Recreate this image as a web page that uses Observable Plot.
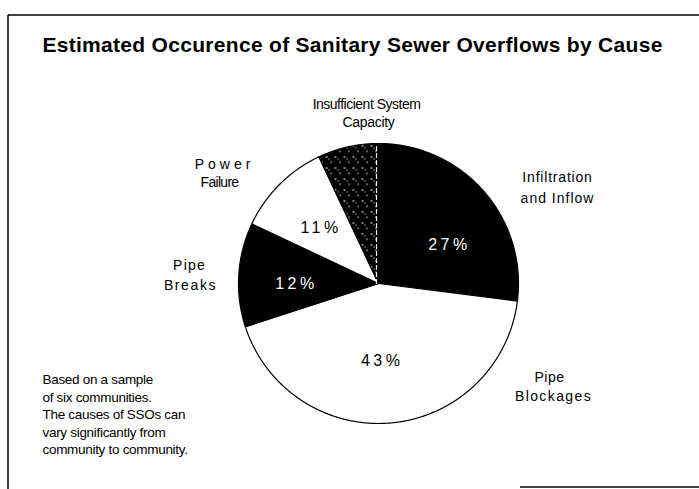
<!DOCTYPE html>
<html><head><meta charset="utf-8">
<script src="https://cdn.jsdelivr.net/npm/d3@7"></script>
<script src="https://cdn.jsdelivr.net/npm/@observablehq/plot@0.6"></script>
<style>body{margin:0;background:#fff} svg{display:block}</style>
</head><body><div id="chart"></div>
<script>
// ---- data ----
const causes = ["Infiltration and Inflow", "Pipe Blockages", "Pipe Breaks", "Power Failure", "Insufficient System Capacity"];
const shares = [27, 43, 12, 11, 7];
const sliceFills = ["black", "white", "black", "white", "url(#speckle)"];
const pctColors = ["white", "black", "white", "black", null];
const title = "Estimated Occurence of Sanitary Sewer Overflows by Cause";
const noteLines = ["Based on a sample", "of six communities.", "The causes of SSOs can", "vary significantly from", "community to community."];

// ---- layout ----
const W = 699, H = 489, cx = 378, cy = 283, R = 140;
const arcs = d3.pie().sort(null).value(d => d)(shares);
const pt = (a, r) => [r * Math.sin(a), r * Math.cos(a)];
const slicePts = [];
arcs.forEach((a, i) => {
  slicePts.push({cause: causes[i], fill: sliceFills[i], x: 0, y: 0});
  const n = Math.max(4, Math.ceil((a.endAngle - a.startAngle) / 0.005));
  for (let k = 0; k <= n; k++) {
    const t = a.startAngle + (a.endAngle - a.startAngle) * k / n;
    const [x, y] = pt(t, 1);
    slicePts.push({cause: causes[i], fill: sliceFills[i], x, y});
  }
});
const pctNudge = [[10, 15], [-4, -3], [-1, 5], [0, 2]];
const pctMarks = arcs.slice(0, 4).map((a, i) => {
  const m = (a.startAngle + a.endAngle) / 2;
  const [x, y] = pt(m, 0.58);
  return Plot.text([{x, y, text: shares[i] + "%"}], {
    x: "x", y: "y", text: "text", fill: pctColors[i],
    dx: pctNudge[i][0], dy: pctNudge[i][1], fontSize: 16, ariaDescription: "pct"
  });
});
// boundary between Insufficient capacity and Infiltration (speckled edge)
const edge = [{x: 0, y: 0}, {x: 0, y: 1}];

const ann = [
  {t: "Insufficient System", x: 366, y: 104, fs: 14, ls: -0.5},
  {t: "Capacity", x: 368, y: 122, fs: 14, ls: -0.3},
  {t: "Power", x: 224, y: 164, fs: 14, ls: 4},
  {t: "Failure", x: 219, y: 182, fs: 14, ls: -0.7},
  {t: "Infiltration", x: 557, y: 177, fs: 14, ls: 0.8},
  {t: "and Inflow", x: 557, y: 198, fs: 14, ls: 1},
  {t: "Pipe", x: 189, y: 265, fs: 14, ls: 1.2},
  {t: "Breaks", x: 190, y: 285, fs: 14, ls: 1.6},
  {t: "Pipe", x: 549, y: 377, fs: 14, ls: 0.5},
  {t: "Blockages", x: 553, y: 396, fs: 14, ls: 1.4}
];

const textMarks = ann.map((a, i) => Plot.text([a.t], {
  frameAnchor: "top-left", dx: a.x, dy: a.y, fontSize: a.fs, fill: "black",
  textAnchor: "middle", lineAnchor: "middle", ariaDescription: "ann" + i
}));

const plot = Plot.plot({
  width: W, height: H,
  margin: 0,
  style: {fontFamily: "'Liberation Sans', Arial, sans-serif", background: "white"},
  x: {domain: [-1, 1], range: [cx - R, cx + R], axis: null},
  y: {domain: [-1, 1], range: [cy + R, cy - R], axis: null},
  color: {type: "identity"},
  marks: [
    Plot.line(slicePts, {x: "x", y: "y", z: "cause", fill: "fill", stroke: "black", strokeWidth: 1.2, curve: "linear-closed"}),
    Plot.line(edge, {x: "x", y: "y", stroke: "white", strokeWidth: 1.2, strokeDasharray: "4,3", dx: -2}),
    ...pctMarks,
    Plot.text([title], {frameAnchor: "top-left", dx: 352, dy: 45, fontSize: 21, fontWeight: "bold", fill: "black", textAnchor: "middle", lineAnchor: "middle", ariaDescription: "title"}),
    Plot.text([noteLines.join("\n")], {frameAnchor: "top-left", dx: 42, dy: 413, fontSize: 13.5, lineHeight: 1.3, textAnchor: "start", lineAnchor: "middle", fill: "black", ariaDescription: "note"}),
    ...textMarks
  ]
});

const svg = d3.select(plot);
svg.selectAll('g[aria-description="pct"]').attr("letter-spacing", 3.5);
svg.select('g[aria-description="title"]').attr("letter-spacing", 0.3);
ann.forEach((a, i) => svg.select(`g[aria-description="ann${i}"]`).attr("letter-spacing", a.ls));
svg.select('g[aria-description="note"]').attr("letter-spacing", -0.3);

// pattern for speckled slice
const defs = svg.insert("defs", ":first-child");
const pat = defs.append("pattern").attr("id", "speckle").attr("width", 9).attr("height", 11).attr("patternUnits", "userSpaceOnUse");
pat.append("rect").attr("width", 9).attr("height", 11).attr("fill", "black");
pat.append("rect").attr("x", 1).attr("y", 2).attr("width", 2).attr("height", 1).attr("fill", "white");
pat.append("rect").attr("x", 6).attr("y", 7).attr("width", 1).attr("height", 1.5).attr("fill", "white");
pat.append("rect").attr("x", 4).attr("y", 4).attr("width", 1).attr("height", 1).attr("fill", "white");

// border of the figure box
const border = svg.append("g").attr("stroke", "black").attr("fill", "none");
border.append("line").attr("x1", 8).attr("y1", 15).attr("x2", W).attr("y2", 15).attr("stroke-width", 1.5);
border.append("line").attr("x1", 8).attr("y1", 15).attr("x2", 8).attr("y2", H).attr("stroke-width", 1.5);
border.append("line").attr("x1", 520).attr("y1", 487).attr("x2", W).attr("y2", 487).attr("stroke-width", 1.5);

document.getElementById("chart").append(plot);
</script></body></html>
